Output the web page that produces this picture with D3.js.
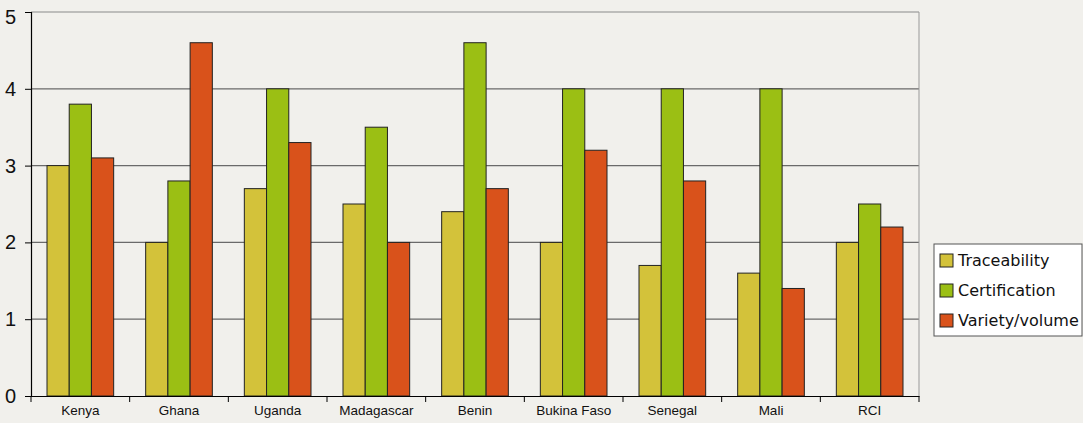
<!DOCTYPE html>
<html>
<head>
<meta charset="utf-8">
<script src="https://cdn.jsdelivr.net/npm/d3@7"></script>
<style>
  body { margin: 0; background: #f1f0ec; }
  svg { display: block; font-family: "DejaVu Sans", sans-serif; }
</style>
</head>
<body>
<svg id="chart" width="1083" height="423"></svg>
<script>
const countries = ["Kenya", "Ghana", "Uganda", "Madagascar", "Benin", "Bukina Faso", "Senegal", "Mali", "RCI"];
const seriesNames = ["Traceability", "Certification", "Variety/volume"];
const traceability = [3.0, 2.0, 2.7, 2.5, 2.4, 2.0, 1.7, 1.6, 2.0];
const certification = [3.8, 2.8, 4.0, 3.5, 4.6, 4.0, 4.0, 4.0, 2.5];
const variety = [3.1, 4.6, 3.3, 2.0, 2.7, 3.2, 2.8, 1.4, 2.2];
const yTicks = [0, 1, 2, 3, 4, 5];
const colors = ["#d3c23a", "#9bbf14", "#d9521b"];

const series = [traceability, certification, variety];

const margin = { left: 31, top: 12, right: 164, bottom: 27 };
const width = 1083, height = 423;
const svg = d3.select("#chart");

const x = d3.scaleBand()
    .domain(countries)
    .range([margin.left, width - margin.right])
    .paddingInner(0)
    .paddingOuter(0);

const xInner = d3.scaleBand()
    .domain(seriesNames)
    .range([16, x.bandwidth() - 16]);

const y = d3.scaleLinear()
    .domain([0, 5])
    .range([height - margin.bottom, margin.top]);

// gridlines
svg.append("g")
    .selectAll("line")
    .data(yTicks.filter(d => d > 0))
    .join("line")
    .attr("x1", margin.left)
    .attr("x2", width - margin.right)
    .attr("y1", d => y(d))
    .attr("y2", d => y(d))
    .attr("stroke", d => d === 5 ? "#8a8a8a" : "#6a6a6a")
    .attr("stroke-width", 1.2);

// right border
svg.append("line")
    .attr("x1", width - margin.right).attr("x2", width - margin.right)
    .attr("y1", y(5)).attr("y2", y(0))
    .attr("stroke", "#999").attr("stroke-width", 1);

// bars
const groups = svg.append("g")
    .selectAll("g")
    .data(countries)
    .join("g")
    .attr("transform", d => `translate(${x(d)},0)`);

groups.selectAll("rect")
    .data((d, i) => seriesNames.map((s, j) => ({ s, v: series[j][i], j })))
    .join("rect")
    .attr("x", d => xInner(d.s))
    .attr("width", xInner.bandwidth())
    .attr("y", d => y(d.v))
    .attr("height", d => y(0) - y(d.v))
    .attr("fill", d => colors[d.j])
    .attr("stroke", "#222")
    .attr("stroke-width", 1);

// y axis
const yAxis = svg.append("g")
    .attr("transform", `translate(${margin.left},0)`)
    .call(d3.axisLeft(y).tickValues(yTicks).tickFormat(d3.format("d")).tickSize(6).tickPadding(9));
yAxis.select(".domain").attr("stroke", "#000").attr("stroke-width", 1.2);
yAxis.selectAll(".tick line").attr("stroke", "#000");
yAxis.selectAll("text").attr("font-size", 20).attr("fill", "#111")
    .attr("dy", d => d === 5 ? "0.55em" : "0.32em");

// x axis
const xAxis = svg.append("g")
    .attr("transform", `translate(0,${y(0)})`)
    .call(d3.axisBottom(x).tickSize(0).tickPadding(9));
xAxis.select(".domain").attr("stroke", "#000").attr("stroke-width", 1.2);
xAxis.selectAll("text").attr("font-size", 13.5).attr("fill", "#111");

// tick marks between categories
svg.append("g")
    .selectAll("line")
    .data(countries.map(c => x(c)).concat([width - margin.right]))
    .join("line")
    .attr("x1", d => d).attr("x2", d => d)
    .attr("y1", y(0)).attr("y2", y(0) + 6)
    .attr("stroke", "#000");

// legend
const legend = svg.append("g").attr("transform", "translate(934,244)");
legend.append("rect")
    .attr("width", 148).attr("height", 92)
    .attr("fill", "#fff").attr("stroke", "#555");
seriesNames.forEach((s, i) => {
    legend.append("rect")
        .attr("x", 6).attr("y", 10 + i * 30)
        .attr("width", 13).attr("height", 13)
        .attr("fill", colors[i]).attr("stroke", "#222");
    legend.append("text")
        .attr("x", 24).attr("y", 22 + i * 30)
        .attr("font-size", 16).attr("fill", "#111")
        .text(s);
});
</script>
</body>
</html>
